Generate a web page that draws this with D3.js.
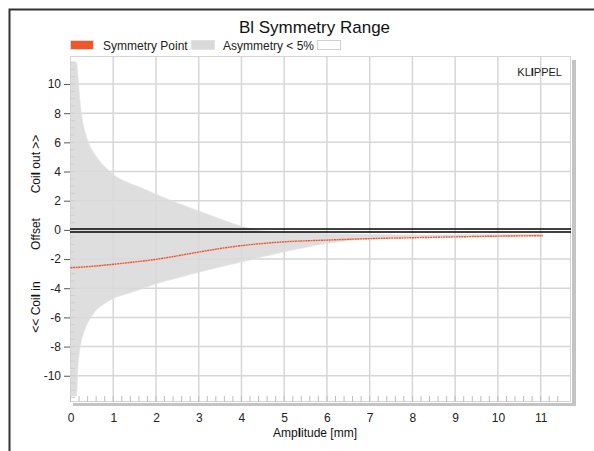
<!DOCTYPE html>
<html><head><meta charset="utf-8">
<script src="https://cdn.jsdelivr.net/npm/d3@7"></script>
<style>body{margin:0;background:#fff}svg{display:block}text{font-family:"Liberation Sans",Arial,sans-serif}</style>
</head><body><svg id="c" width="594" height="451"></svg>
<script>
const title = "Bl Symmetry Range";
const legendLabels = ["Symmetry Point", "Asymmetry < 5%"];
const xTicks = [0,1,2,3,4,5,6,7,8,9,10,11];
const yTicks = [-10,-8,-6,-4,-2,0,2,4,6,8,10];
const bandX     = [0, 0.14, 0.18, 0.2, 0.22, 0.26, 0.3, 0.35, 0.4, 0.5, 0.6, 0.7, 0.8, 1.0, 1.3, 1.6, 2.0, 2.5, 3.0, 3.5, 4.0, 4.3, 4.6, 5, 5.5, 6, 7, 8, 9, 10, 11.05];
const bandUpper = [11.5, 11.5, 10.4, 9.6, 8.9, 7.9, 7.2, 6.6, 6.15, 5.5, 5.05, 4.65, 4.35, 3.8, 3.3, 2.95, 2.45, 1.85, 1.3, 0.75, 0.25, 0.02, -0.08, -0.15, -0.2, -0.24, -0.3, -0.35, -0.33, -0.3, -0.28];
const bandLower = [-11.4, -11.4, -9.1, -8.6, -8.2, -7.55, -7.1, -6.75, -6.4, -5.9, -5.5, -5.25, -5.05, -4.7, -4.4, -4.12, -3.7, -3.3, -2.9, -2.55, -2.2, -2.0, -1.78, -1.5, -1.2, -0.92, -0.62, -0.5, -0.45, -0.43, -0.42];
const symX = [0, 0.5, 1, 1.5, 2, 2.5, 3, 3.5, 4, 4.5, 5, 6, 7, 8, 9, 10, 11.05];
const symY = [-2.6, -2.5, -2.36, -2.2, -2.02, -1.78, -1.52, -1.28, -1.08, -0.93, -0.82, -0.7, -0.6, -0.54, -0.48, -0.43, -0.4];

const svg = d3.select("#c");
const L=70, R=571, T=56, B=402;
const x = d3.scaleLinear().domain([0, 11.71]).range([70.5, R]);
const y = d3.scaleLinear().domain([-11.8, 11.92]).range([B, T]);

// outer frame
svg.append("rect").attr("x",9.5).attr("y",9.5).attr("width",620).attr("height",470)
  .attr("fill","none").attr("stroke","#333").attr("stroke-width",2);

// title
svg.append("text").attr("x",314.5).attr("y",33).attr("text-anchor","middle")
  .attr("font-size",17).attr("fill","#111").text(title);

// legend
const lg = svg.append("g");
lg.append("rect").attr("x",70.5).attr("y",40.5).attr("width",23).attr("height",9).attr("fill","#f0562c").attr("stroke","#e8d8d0");
lg.append("text").attr("x",103).attr("y",50).attr("font-size",12).attr("fill","#222").text(legendLabels[0]);
lg.append("rect").attr("x",191.5).attr("y",40.5).attr("width",23).attr("height",9).attr("fill","#d9d9d9").attr("stroke","#e2e2e2");
lg.append("text").attr("x",223).attr("y",50).attr("font-size",12).attr("fill","#222").text(legendLabels[1]);
lg.append("rect").attr("x",317.5).attr("y",40.5).attr("width",23).attr("height",9).attr("fill","#fff").attr("stroke","#d0d0d0");

// shadow
svg.append("rect").attr("x",R+1).attr("y",T+4).attr("width",4).attr("height",B-T).attr("fill","#c4c4c4");
svg.append("rect").attr("x",L+3).attr("y",B+1).attr("width",R-L+2).attr("height",3).attr("fill","#c4c4c4");

// plot bg
svg.append("rect").attr("x",L).attr("y",T).attr("width",R-L).attr("height",B-T).attr("fill","#fff");

// grid
const g = svg.append("g");
g.selectAll(".vg").data(xTicks.filter(d=>d>0)).join("line")
  .attr("x1",d=>x(d)).attr("x2",d=>x(d)).attr("y1",T).attr("y2",B)
  .attr("stroke","#d6d6d6").attr("stroke-width",1.5);
g.selectAll(".hg").data(yTicks.filter(d=>d!==0)).join("line")
  .attr("x1",L).attr("x2",R).attr("y1",d=>y(d)).attr("y2",d=>y(d))
  .attr("stroke","#d6d6d6").attr("stroke-width",1.5);

// band
const band = bandX.map((d,i)=>({x:d,u:bandUpper[i],l:bandLower[i]}));
svg.append("path").datum(band)
  .attr("d", d3.area().x(d=>x(d.x)).y0(d=>y(d.l)).y1(d=>y(d.u)).curve(d3.curveMonotoneX))
  .attr("fill","#d9d9d9").attr("fill-opacity",0.88)
  .attr("stroke","#e4e4e4").attr("stroke-width",0.6);

// plot border
svg.append("rect").attr("x",L+0.5).attr("y",T+0.5).attr("width",R-L-1).attr("height",B-T-1)
  .attr("fill","none").attr("stroke","#d4d4d4").attr("stroke-width",1);

// minor ticks
const xMinor = d3.range(0, 58).map(i=>i*0.2).filter(v=>v<=11.6);
svg.append("g").selectAll("line").data(xMinor).join("line")
  .attr("x1",d=>x(d)).attr("x2",d=>x(d)).attr("y1",B-6).attr("y2",B)
  .attr("stroke","#bdbdbd").attr("stroke-width",1);
const yMinor = d3.range(-23, 24).map(i=>i*0.5);
svg.append("g").selectAll("line").data(yMinor).join("line")
  .attr("x1",L).attr("x2",L+5).attr("y1",d=>y(d)).attr("y2",d=>y(d))
  .attr("stroke","#cfcfcf").attr("stroke-width",1);

// zero double line
svg.append("line").attr("x1",L).attr("x2",R).attr("y1",y(0)-0.9).attr("y2",y(0)-0.9).attr("stroke","#000").attr("stroke-width",1.6);
svg.append("line").attr("x1",L).attr("x2",R).attr("y1",y(0)+2.1).attr("y2",y(0)+2.1).attr("stroke","#000").attr("stroke-width",1.6);

// symmetry line
const sym = symX.map((d,i)=>({x:d,y:symY[i]}));
svg.append("path").datum(sym)
  .attr("d", d3.line().x(d=>x(d.x)).y(d=>y(d.y)).curve(d3.curveMonotoneX))
  .attr("fill","none").attr("stroke","#f0562c").attr("stroke-width",1.4)
  .attr("stroke-dasharray","2,0.6");

// y axis
const ya = svg.append("g").attr("transform",`translate(${L},0)`)
  .call(d3.axisLeft(y).tickValues(yTicks).tickSize(6).tickPadding(3).tickFormat(d=>d<0?"-"+Math.abs(d):d));
ya.select(".domain").remove();
ya.selectAll(".tick line").attr("stroke","#555");
ya.selectAll(".tick text").attr("font-size",12).attr("fill","#222").attr("font-family","Liberation Sans, Arial, sans-serif");

// x axis labels
const xa = svg.append("g").attr("transform",`translate(0,${B})`)
  .call(d3.axisBottom(x).tickValues(xTicks).tickSize(0).tickPadding(11));
xa.select(".domain").remove();
xa.selectAll(".tick text").attr("font-size",12).attr("fill","#222").attr("font-family","Liberation Sans, Arial, sans-serif");

// x title with bold l
const xt = svg.append("text").attr("x",315).attr("y",437).attr("text-anchor","middle").attr("font-size",12).attr("fill","#111");
xt.append("tspan").text("Amp");
xt.append("tspan").attr("font-weight","bold").text("l");
xt.append("tspan").text("itude [mm]");

// y titles
function ylab(cy, parts){
  const t = svg.append("text").attr("transform",`translate(40,${cy}) rotate(-90)`).attr("text-anchor","middle").attr("font-size",12).attr("fill","#111");
  parts.forEach(p=>t.append("tspan").attr("font-weight",p[1]?"bold":null).text(p[0]));
}
ylab(164, [["Coi",0],["l",1],[" out >>",0]]);
ylab(234, [["Offset",0]]);
ylab(307, [["<< Coi",0],["l",1],[" in",0]]);

// KLIPPEL
const kt = svg.append("text").attr("x",562).attr("y",76).attr("text-anchor","end").attr("font-size",11).attr("fill","#222");
kt.append("tspan").text("KL");
kt.append("tspan").attr("font-weight","bold").text("I");
kt.append("tspan").text("PPEL");
</script></body></html>
